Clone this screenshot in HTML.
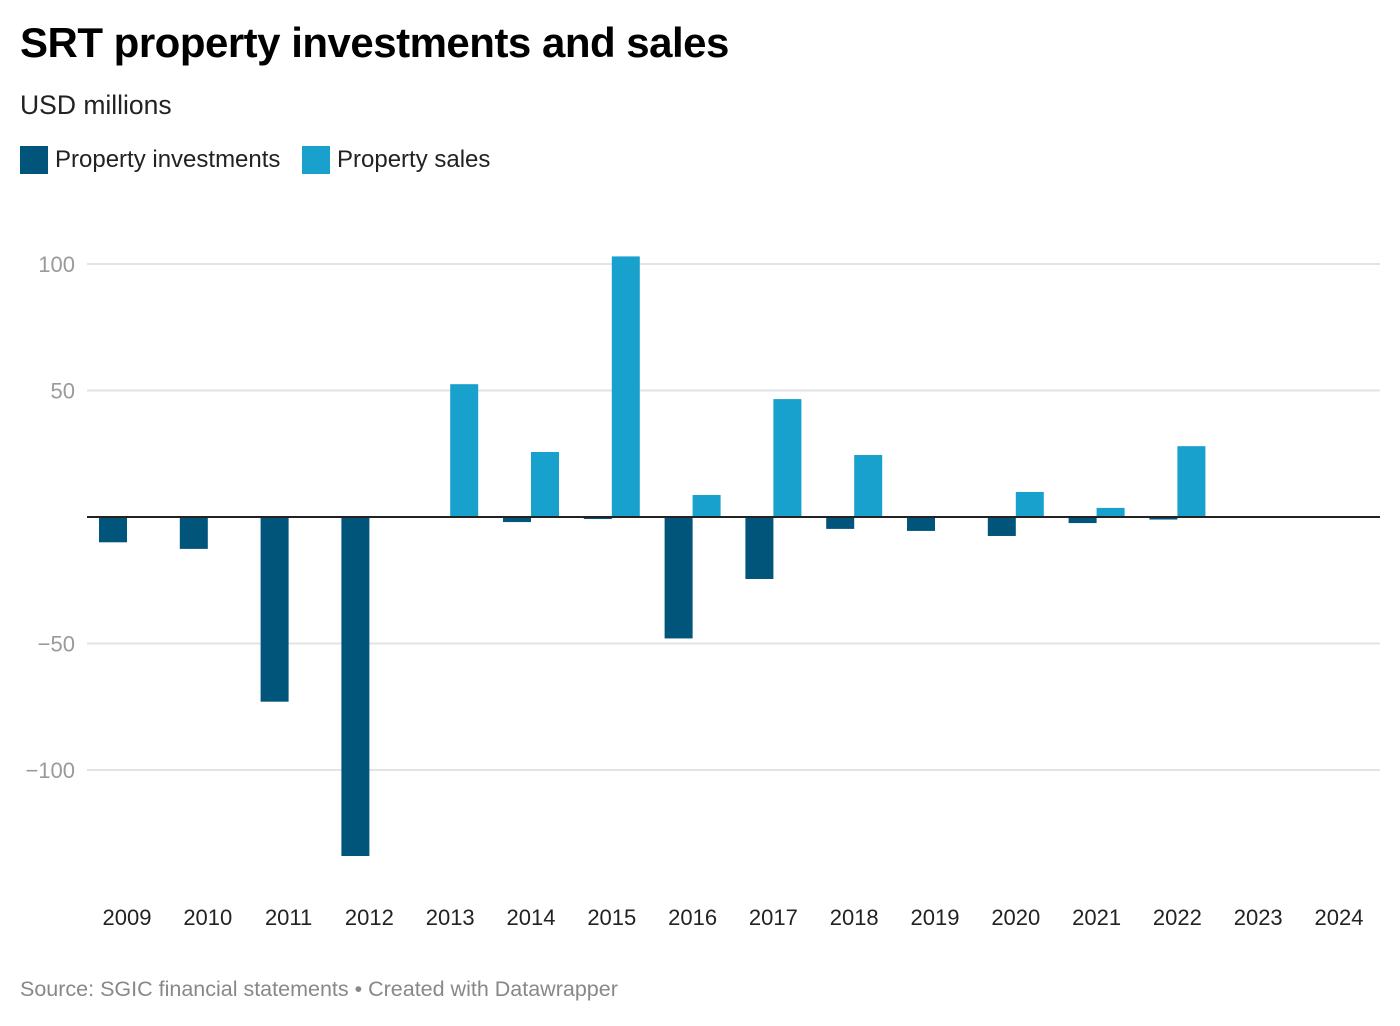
<!DOCTYPE html>
<html><head><meta charset="utf-8"><style>
body{margin:0;background:#fff;font-family:"Liberation Sans",sans-serif;}
#wrap{position:relative;width:1400px;height:1026px;}
h1{position:absolute;left:20px;top:19px;margin:0;font-size:42px;font-weight:bold;color:#000;letter-spacing:-0.5px}
.sub{position:absolute;left:20px;top:90px;font-size:26.5px;color:#222}
.leg{position:absolute;top:146px;font-size:24px;color:#222;display:flex;align-items:center}
.sw{width:28px;height:28px;margin-right:7px}
.src{position:absolute;left:20px;top:977px;font-size:21.5px;color:#888}
</style></head><body>
<div id="wrap">
<h1>SRT property investments and sales</h1>
<div class="sub">USD millions</div>
<div class="leg" style="left:20px"><div class="sw" style="background:#01547a"></div>Property investments</div>
<div class="leg" style="left:302px"><div class="sw" style="background:#18a1cd"></div>Property sales</div>
<svg id="svg" width="1400" height="1026" style="position:absolute;left:0;top:0"></svg>
<div class="src">Source: SGIC financial statements • Created with Datawrapper</div>
</div>
<script>
const years=["2009","2010","2011","2012","2013","2014","2015","2016","2017","2018","2019","2020","2021","2022","2023","2024"];
const investments=[-10,-12.6,-73,-134,0,-2,-0.8,-48,-24.5,-4.7,-5.5,-7.5,-2.4,-1,0,0];
const sales=[0,0,0,0,52.5,25.7,103,8.7,46.6,24.5,0,9.9,3.6,28,0,0];
const ticks=[100,50,-50,-100];
const ns="http://www.w3.org/2000/svg";
const svg=document.getElementById('svg');
const y=v=>517-v*2.53;
const xc=i=>127+i*80.8;
function mk(t,a){const e=document.createElementNS(ns,t);for(const k in a)e.setAttribute(k,a[k]);svg.appendChild(e);return e;}
ticks.forEach(t=>{
 const l=mk('line',{x1:87,x2:1380,y1:y(t),y2:y(t),stroke:'#e3e3e3','stroke-width':2});
 
 
 const tx=mk('text',{x:75,y:y(t)+8,'text-anchor':'end','font-size':22,fill:'#9a9a9a'});
 tx.textContent=t<0?'−'+(-t):t;
 
 
});
years.forEach((yr,i)=>{
 const c=xc(i);
 if(investments[i]!==0){const v=investments[i];
  const r=mk('rect',{x:c-28,width:28,y:Math.min(y(0),y(v)),height:Math.abs(y(v)-y(0)),fill:'#01547a'});
  
  }
 if(sales[i]!==0){const v=sales[i];
  const r=mk('rect',{x:c,width:28,y:Math.min(y(0),y(v)),height:Math.abs(y(v)-y(0)),fill:'#18a1cd'});
  
  }
 const t=mk('text',{x:c,y:925,'text-anchor':'middle','font-size':22,fill:'#222'});
 t.textContent=yr;
 
 
});
const z=mk('line',{x1:87,x2:1380,y1:y(0),y2:y(0),stroke:'#222','stroke-width':2});


</script>
</body></html>
